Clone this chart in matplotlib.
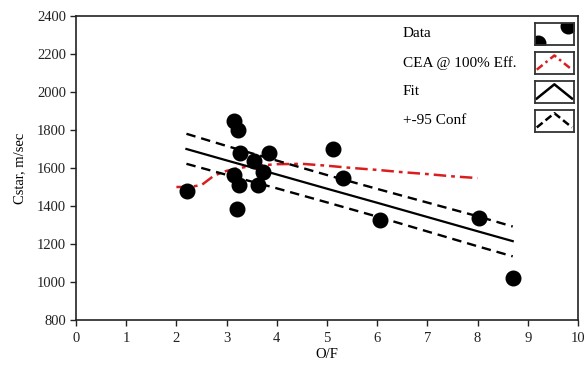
import matplotlib
matplotlib.use("Agg")
import matplotlib.pyplot as plt

# datos
of_data = [2.22, 3.15, 3.22, 3.27, 3.15, 3.25, 3.20, 3.55, 3.85, 3.72, 3.62, 5.12, 5.32, 6.05, 8.03, 8.70]
cstar_data = [1480, 1845, 1800, 1680, 1565, 1510, 1385, 1635, 1680, 1580, 1510, 1700, 1545, 1325, 1335, 1020]

of_cea = [2.0, 2.25, 2.5, 2.75, 3.0, 3.25, 3.5, 4.0, 4.5, 5.0, 5.5, 6.0, 6.5, 7.0, 7.5, 8.0]
cstar_cea = [1500, 1500, 1510, 1560, 1585, 1600, 1610, 1620, 1622, 1612, 1600, 1590, 1578, 1568, 1556, 1547]

of_fit = [2.2, 3.0, 4.0, 5.0, 6.0, 7.0, 8.0, 8.7]
cstar_fit = [1700, 1640, 1566, 1491, 1417, 1342, 1267, 1215]
conf_sup = [1780, 1716, 1639, 1563, 1490, 1418, 1346, 1292]
conf_inf = [1622, 1564, 1493, 1419, 1344, 1266, 1188, 1135]

rotulos = ["Data", "CEA @ 100% Eff.", "Fit", "+-95 Conf"]

plt.rcParams['font.family'] = ['Liberation Serif', 'DejaVu Serif']
plt.rcParams['font.size'] = 10.5

fig = plt.figure(figsize=(5.86, 3.66), dpi=100)
ax = fig.add_axes([0.1297, 0.1257, 0.8566, 0.8306])

ax.plot(of_cea, cstar_cea, color='#d81e1e', linewidth=1.8, dashes=(5, 2, 1.5, 2))
ax.plot(of_fit, cstar_fit, color='black', linewidth=1.6)
ax.plot(of_fit, conf_sup, color='black', linewidth=1.7, dashes=(4, 2.5))
ax.plot(of_fit, conf_inf, color='black', linewidth=1.7, dashes=(4, 2.5))
ax.plot(of_data, cstar_data, 'o', color='black', markersize=10.5, zorder=5)

ax.set_xlim(0, 10)
ax.set_ylim(800, 2400)
ax.set_xticks(range(0, 11))
ax.set_yticks(range(800, 2401, 200))
ax.tick_params(direction='out', length=4, width=1, colors='#222222', pad=3)
ax.tick_params(axis='x', pad=5)
for s in ax.spines.values():
	s.set_linewidth(1.2)
	s.set_color('#222222')

ax.set_xlabel("O/F", labelpad=2)
ax.set_ylabel("Cstar, m/sec", labelpad=8)

# legenda desenhada a mao
ys = [0.941, 0.845, 0.750, 0.655]
for i in range(len(rotulos)):
	ax.text(0.651, ys[i], rotulos[i], transform=ax.transAxes, ha='left', va='center', fontsize=11)
	caixa = ax.inset_axes([0.914, ys[i] - 0.036, 0.078, 0.072])
	caixa.set_xlim(0, 1)
	caixa.set_ylim(0, 1)
	caixa.set_xticks([])
	caixa.set_yticks([])
	for s in caixa.spines.values():
		s.set_linewidth(1.3)
		s.set_color('#333333')
	if i == 0:
		caixa.plot([0.08, 0.85], [0.1, 0.88], 'o', color='black', markersize=10.5)
	elif i == 1:
		caixa.plot([0.05, 0.5, 0.95], [0.2, 0.85, 0.2], color='#d81e1e', linewidth=1.8, dashes=(3, 1.5, 1, 1.5))
	elif i == 2:
		caixa.plot([0.05, 0.5, 0.95], [0.2, 0.85, 0.2], color='black', linewidth=1.8)
	else:
		caixa.plot([0.05, 0.5, 0.95], [0.2, 0.85, 0.2], color='black', linewidth=1.8, dashes=(3, 1.5))

fig.savefig("out.png", dpi=100)
